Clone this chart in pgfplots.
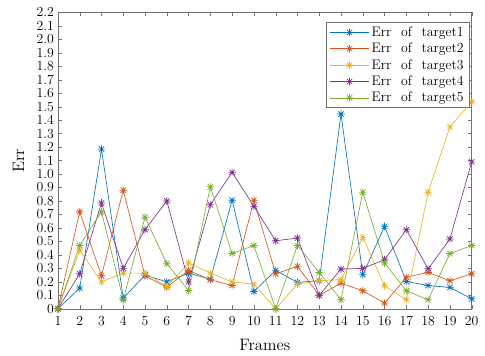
\documentclass[border=0pt]{standalone}
\usepackage{pgfplots}
\pgfplotsset{compat=1.18}
\definecolor{c1}{rgb}{0,0.447,0.741}
\definecolor{c2}{rgb}{0.85,0.325,0.098}
\definecolor{c3}{rgb}{0.929,0.694,0.125}
\definecolor{c4}{rgb}{0.494,0.184,0.556}
\definecolor{c5}{rgb}{0.466,0.674,0.188}
\newcommand{\lsp}{\hspace{0.7em}}
\pgfdeclareplotmark{ast8}{%
  \pgfpathmoveto{\pgfqpoint{-\pgfplotmarksize}{0pt}}\pgfpathlineto{\pgfqpoint{\pgfplotmarksize}{0pt}}%
  \pgfpathmoveto{\pgfqpoint{0pt}{-\pgfplotmarksize}}\pgfpathlineto{\pgfqpoint{0pt}{\pgfplotmarksize}}%
  \pgfpathmoveto{\pgfqpoint{-0.707\pgfplotmarksize}{-0.707\pgfplotmarksize}}\pgfpathlineto{\pgfqpoint{0.707\pgfplotmarksize}{0.707\pgfplotmarksize}}%
  \pgfpathmoveto{\pgfqpoint{-0.707\pgfplotmarksize}{0.707\pgfplotmarksize}}\pgfpathlineto{\pgfqpoint{0.707\pgfplotmarksize}{-0.707\pgfplotmarksize}}%
  \pgfusepathqstroke}
\begin{document}
\begin{tikzpicture}
\begin{axis}[
  scale only axis, width=360pt, height=258pt,
  xmin=1, xmax=20, ymin=0, ymax=2.2,
  xtick={1,...,20},
  ytick={0,0.1,...,2.2},
  yticklabels={0,0.1,0.2,0.3,0.4,0.5,0.6,0.7,0.8,0.9,1.0,1.1,1.2,1.3,1.4,1.5,1.6,1.7,1.8,1.9,2.0,2.1,2.2},
  tick label style={font=\large},
  xticklabel style={yshift=-3pt},
  tick align=inside, major tick length=3.5pt,
  axis line style={black!55}, tick style={black!55},
  xlabel={Frames}, ylabel={Err},
  label style={font=\Large},
  xlabel style={yshift=-5pt},
  ylabel style={yshift=4pt},
  every axis plot/.append style={line width=0.55pt, mark=ast8, mark size=3.3pt, mark options={line width=0.6pt}},
  legend style={at={(0.995,0.966)}, anchor=north east, draw=black!55, row sep=0.3pt, inner xsep=3pt, inner ysep=1.5pt, font=\large},
  legend cell align=left,
  legend image code/.code={\draw[#1] (0pt,0pt) -- (34pt,0pt); \draw[#1, mark repeat=2, mark phase=2] plot coordinates {(0pt,0pt) (17pt,0pt) (34pt,0pt)};},
]
\addplot[c1] coordinates {(1,0) (2,0.154) (3,1.185) (4,0.08) (5,0.25) (6,0.20) (7,0.265) (8,0.22) (9,0.805) (10,0.129) (11,0.285) (12,0.196) (13,0.208) (14,1.445) (15,0.253) (16,0.612) (17,0.203) (18,0.173) (19,0.159) (20,0.074)};
\addlegendentry{Err\lsp of\lsp target1}
\addplot[c2] coordinates {(1,0) (2,0.72) (3,0.245) (4,0.88) (5,0.245) (6,0.16) (7,0.285) (8,0.215) (9,0.173) (10,0.805) (11,0.26) (12,0.315) (13,0.10) (14,0.19) (15,0.134) (16,0.042) (17,0.235) (18,0.27) (19,0.208) (20,0.26)};
\addlegendentry{Err\lsp of\lsp target2}
\addplot[c3] coordinates {(1,0) (2,0.434) (3,0.20) (4,0.265) (5,0.265) (6,0.165) (7,0.34) (8,0.265) (9,0.20) (10,0.183) (11,0) (12,0.183) (13,0.21) (14,0.216) (15,0.53) (16,0.171) (17,0.067) (18,0.865) (19,1.35) (20,1.536)};
\addlegendentry{Err\lsp of\lsp target3}
\addplot[c4] coordinates {(1,0) (2,0.26) (3,0.785) (4,0.30) (5,0.587) (6,0.80) (7,0.20) (8,0.773) (9,1.013) (10,0.76) (11,0.505) (12,0.525) (13,0.10) (14,0.295) (15,0.30) (16,0.364) (17,0.587) (18,0.297) (19,0.518) (20,1.09)};
\addlegendentry{Err\lsp of\lsp target4}
\addplot[c5] coordinates {(1,0) (2,0.47) (3,0.72) (4,0.067) (5,0.68) (6,0.335) (7,0.136) (8,0.905) (9,0.41) (10,0.47) (11,0) (12,0.47) (13,0.27) (14,0.067) (15,0.865) (16,0.34) (17,0.134) (18,0.067) (19,0.41) (20,0.47)};
\addlegendentry{Err\lsp of\lsp target5}
\end{axis}
\pgfresetboundingbox
\path (current axis.south west) ++(-50.4pt,-40.9pt) rectangle ++(422pt,309.6pt);
\end{tikzpicture}
\end{document}
